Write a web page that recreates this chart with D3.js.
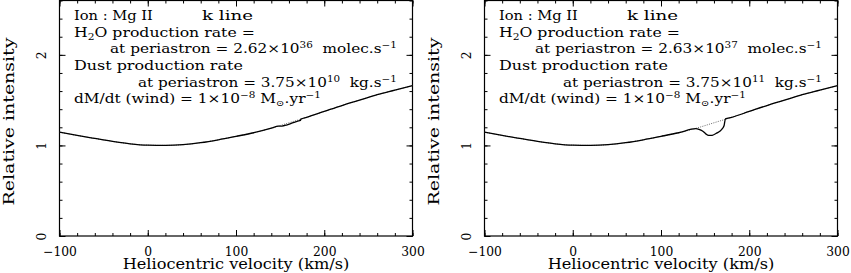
<!DOCTYPE html>
<html><head><meta charset="utf-8">
<script src="https://cdn.jsdelivr.net/npm/d3@7"></script>
<style>
body{margin:0;background:#fff}
svg{display:block}
text{font-family:"DejaVu Serif",serif;fill:#000;white-space:pre}
</style>
</head><body>
<svg id="chart" width="851" height="273"></svg>
<script>
// ---- data ----
const velocity  = [-100,-80,-60,-40,-20,0,20,40,60,80,100,120,140,160,180,200,220,240,260,280,300];
const continuum = [1.146,1.11,1.077,1.045,1.018,1.003,1.0,1.008,1.03,1.062,1.10,1.14,1.19,1.25,1.31,1.375,1.44,1.50,1.56,1.61,1.66];

// absorption part of the solid profile, left panel (weak case)
const absVelocityLeft  = [148,152,158,164,170,173,173.5];
const absIntensityLeft = [1.214,1.214,1.228,1.248,1.268,1.276,1.29];
// absorption part of the solid profile, right panel (strong case)
const absVelocityRight  = [139.5,143,147,150.5,154,158,163.5,167,169.5,171.5,173];
const absIntensityRight = [1.185,1.178,1.16,1.13,1.11,1.112,1.138,1.16,1.185,1.22,1.293];

const xTickValues = [-100,0,100,200,300];
const yTickValues = [0,1,2];

const h2oMantissa  = ["2.62","2.63"];
const h2oExponent  = ["36","37"];
const dustMantissa = ["3.75","3.75"];
const dustExponent = ["10","11"];

// ---- layout ----
const svg = d3.select("#chart");
const W = 353, H = 235.5;
const x = d3.scaleLinear().domain([-100,300]).range([0,W]);
const y = d3.scaleLinear().domain([0,2.6]).range([H,0]);
const panelX = [59.5, 484.5];

function fitText(sel, target, tx, ty, rot){
  const w = sel.node().getComputedTextLength();
  const s = target / w;
  sel.attr("transform", `translate(${tx},${ty})` + (rot ? ` rotate(${rot})` : "") + ` scale(${s},1)`);
}

function addLine(g, tx, ty, parts, target){
  const t = g.append("text").attr("x",0).attr("y",0).style("font-size","12.5px");
  let shift = 0;
  parts.forEach(([str, kind]) => {
    let want = kind === "sup" ? -5 : kind === "sub" ? 3 : 0;
    const ts = t.append("tspan").text(str).attr("dy", want - shift);
    if (kind !== "n") ts.style("font-size","8.5px");
    shift = want;
  });
  fitText(t, target, tx, ty);
  return t;
}

function buildSolid(absV, absI){
  const before = velocity.map((v,i)=>[v,continuum[i]]).filter(d=>d[0] < absV[0]);
  const mid = absV.map((v,i)=>[v,absI[i]]);
  const after = velocity.map((v,i)=>[v,continuum[i]]).filter(d=>d[0] > absV[absV.length-1]);
  return before.concat(mid, after);
}

const line = d3.line().x(d=>x(d[0])).y(d=>y(d[1])).curve(d3.curveMonotoneX);

[0,1].forEach(p => {
  const g = svg.append("g").attr("transform", `translate(${panelX[p]},0.5)`);

  const tickStyle = sel => { sel.select(".domain").remove(); sel.selectAll("line").attr("stroke","#000").attr("stroke-width",1); };

  // minor ticks
  const xMinor = d3.range(-100,301,20), yMinor = d3.range(0,2.61,0.2);
  g.append("g").attr("transform",`translate(0,${H})`).call(d3.axisBottom(x).tickValues(xMinor).tickSize(-3).tickFormat("")).call(tickStyle);
  g.append("g").call(d3.axisTop(x).tickValues(xMinor).tickSize(-3).tickFormat("")).call(tickStyle);
  g.append("g").call(d3.axisLeft(y).tickValues(yMinor).tickSize(-3).tickFormat("")).call(tickStyle);
  g.append("g").attr("transform",`translate(${W},0)`).call(d3.axisRight(y).tickValues(yMinor).tickSize(-3).tickFormat("")).call(tickStyle);

  // major ticks + labels
  const bx = g.append("g").attr("transform",`translate(0,${H})`)
    .call(d3.axisBottom(x).tickValues(xTickValues).tickSize(-6).tickFormat(d3.format("d"))).call(tickStyle);
  bx.selectAll("text").attr("y",20).attr("dy",null).style("font-size","12.3px").style("font-family","DejaVu Serif").attr("fill","#000");
  g.append("g").call(d3.axisTop(x).tickValues(xTickValues).tickSize(-6).tickFormat("")).call(tickStyle);
  const ly = g.append("g").call(d3.axisLeft(y).tickValues(yTickValues).tickSize(-6).tickFormat(d3.format("d"))).call(tickStyle);
  ly.selectAll("text").attr("x",null).attr("dy",null).attr("text-anchor","middle")
    .attr("transform","translate(-14,0) rotate(-90)").style("font-size","12.3px").style("font-family","DejaVu Serif").attr("fill","#000");
  g.append("g").attr("transform",`translate(${W},0)`).call(d3.axisRight(y).tickValues(yTickValues).tickSize(-6).tickFormat("")).call(tickStyle);

  // frame
  g.append("rect").attr("x",0).attr("y",0).attr("width",W).attr("height",H)
    .attr("fill","none").attr("stroke","#000").attr("stroke-width",1.2);

  // continuum (dotted) and solid profile
  g.append("path").datum(velocity.map((v,i)=>[v,continuum[i]]))
    .attr("d",line).attr("fill","none").attr("stroke","#444").attr("stroke-width",0.8).attr("stroke-dasharray","1,1.3");
  const solid = p === 0 ? buildSolid(absVelocityLeft, absIntensityLeft) : buildSolid(absVelocityRight, absIntensityRight);
  g.append("path").datum(solid).attr("d",line).attr("fill","none").attr("stroke","#000").attr("stroke-width",1.3);

  // annotations
  addLine(g, 14.5, 19.5, [["Ion : Mg II","n"]], 79);
  addLine(g, 142.5, 19.5, [["k line","n"]], 51);
  addLine(g, 14.5, 36, [["H","n"],["2","sub"],["O production rate =","n"]], 181);
  addLine(g, 50.5, 52.5, [["at periastron = "+h2oMantissa[p]+"\u00d710","n"],[h2oExponent[p],"sup"],["  molec.s","n"],["\u22121","sup"]], 287);
  addLine(g, 14.5, 69.5, [["Dust production rate","n"]], 169);
  addLine(g, 78.5, 86, [["at periastron = "+dustMantissa[p]+"\u00d710","n"],[dustExponent[p],"sup"],["  kg.s","n"],["\u22121","sup"]], 259);
  addLine(g, 14.5, 102, [["dM/dt (wind) = 1\u00d710","n"],["\u22128","sup"],[" M","n"],["\u2299","sub"],[".yr","n"],["\u22121","sup"]], 247);

  // axis titles
  const xl = g.append("text").attr("text-anchor","middle").style("font-size","14px").text("Heliocentric velocity (km/s)");
  fitText(xl, 227, W/2, 268);
  const yl = g.append("text").attr("text-anchor","middle").style("font-size","14px").text("Relative intensity");
  fitText(yl, 168, -46, 121, -90);
});
</script>
</body></html>
